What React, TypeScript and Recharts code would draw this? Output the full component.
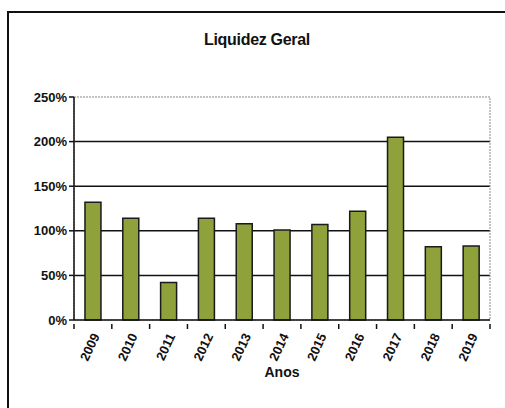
import React from 'react';
import {
  BarChart,
  Bar,
  XAxis,
  YAxis,
  CartesianGrid,
  ReferenceArea,
  Label
} from 'recharts';

const anos = ['2009', '2010', '2011', '2012', '2013', '2014', '2015', '2016', '2017', '2018', '2019'];
const liquidez = [132, 114, 42, 114, 108, 101, 107, 122, 205, 82, 83];
const yTicks = [0, 50, 100, 150, 200, 250];
const yMax = 250;

const data = anos.map((ano, i) => ({ ano, valor: liquidez[i] }));

const FONT = '"Liberation Sans", Arial, sans-serif';

// year label rotated, plus a tick mark on the category boundary
const AnoTick = (props: any) => {
  const { x, y, payload, index } = props;
  const half = payload.offset ?? 18.9;
  const left = x - half;
  return (
    <g>
      <line x1={left} y1={y - 4} x2={left} y2={y + 1} stroke="#111" strokeWidth={1.5} />
      {index === anos.length - 1 && (
        <line x1={x + half} y1={y - 4} x2={x + half} y2={y + 1} stroke="#111" strokeWidth={1.5} />
      )}
      <text
        x={x + 3}
        y={y + 6}
        transform={`rotate(-65, ${x + 3}, ${y + 6})`}
        textAnchor="end"
        dominantBaseline="central"
        fontFamily={FONT}
        fontWeight="bold"
        fontSize={13}
        fill="#111"
      >
        {payload.value}
      </text>
    </g>
  );
};

// inner gridlines only; the 250% edge is drawn dotted by the ReferenceArea
const gridLines = ({ offset }: any) =>
  yTicks
    .filter((t) => t > 0 && t < yMax)
    .map((t) => offset.top + offset.height * (1 - t / yMax));

const App = () => {
  return (
    <div
      style={{
        position: 'absolute',
        left: 7,
        top: 11,
        width: 498,
        height: 397,
        borderTop: '2px solid #111',
        borderLeft: '2px solid #111',
        background: '#fff',
        boxSizing: 'border-box',
        overflow: 'hidden'
      }}
    >
      <div
        style={{
          position: 'absolute',
          top: 18,
          left: 0,
          width: 496,
          textAlign: 'center',
          fontFamily: FONT,
          fontWeight: 'bold',
          fontSize: 16,
          letterSpacing: -0.3,
          color: '#111'
        }}
      >
        Liquidez Geral
      </div>
      <BarChart
        width={496}
        height={395}
        data={data}
        margin={{ top: 84, right: 15, left: 0, bottom: 0 }}
        barCategoryGap="29%"
      >
        <CartesianGrid
          vertical={false}
          stroke="#111"
          strokeWidth={1.5}
          horizontalCoordinatesGenerator={gridLines}
        />
        <ReferenceArea
          x1="2009"
          x2="2019"
          y1={0}
          y2={yMax}
          fill="none"
          stroke="#888"
          strokeDasharray="2 1"
        />
        <XAxis
          dataKey="ano"
          height={88}
          interval={0}
          tickLine={false}
          axisLine={{ stroke: '#111', strokeWidth: 1.5 }}
          tick={<AnoTick />}
        >
          <Label
            value="Anos"
            position="insideTop"
            offset={47}
            style={{ fontFamily: FONT, fontWeight: 'bold', fontSize: 14, fill: '#111' }}
          />
        </XAxis>
        <YAxis
          width={65}
          domain={[0, yMax]}
          ticks={yTicks}
          interval={0}
          tickFormatter={(v) => `${v}%`}
          tickSize={5}
          tickLine={{ stroke: '#111', strokeWidth: 1.5 }}
          axisLine={{ stroke: '#111', strokeWidth: 1.5 }}
          tick={{ fontFamily: FONT, fontWeight: 'bold', fontSize: 13, fill: '#111' }}
        />
        <Bar
          dataKey="valor"
          fill="#8ea13b"
          stroke="#1a1a1a"
          strokeWidth={1.5}
          isAnimationActive={false}
        />
      </BarChart>
    </div>
  );
};

export default App;
